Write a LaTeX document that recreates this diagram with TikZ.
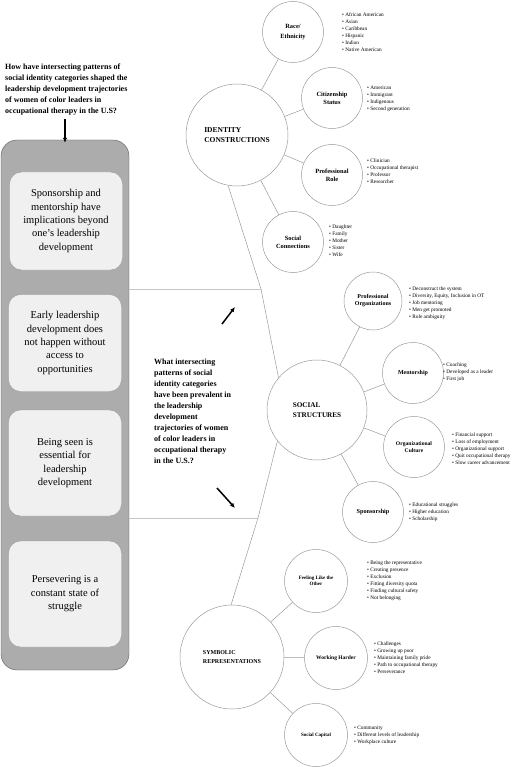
\documentclass[tikz,border=0pt]{standalone}
\usepackage{fontspec}
\setmainfont{Liberation Serif}
\usetikzlibrary{positioning,arrows.meta}
\definecolor{panelgray}{HTML}{ACACAC}
\definecolor{cardgray}{HTML}{F0F0F0}
\definecolor{rimgray}{HTML}{9A9A9A}
\definecolor{railgray}{HTML}{C4C4C4}
\begin{document}
\begin{tikzpicture}[x=1pt, y=-1pt,
  topic/.style = {circle, draw=rimgray, line width=0.5pt,
    minimum size=102pt, inner sep=0pt, align=left,
    font=\bfseries\fontsize{7.5}{10}\selectfont},
  subtopic/.style = {circle, draw=rimgray, line width=0.5pt,
    minimum size=61pt, inner sep=0pt, align=center,
    font=\bfseries\fontsize{6.4}{8}\selectfont},
  codes/.style = {anchor=west, align=left, inner sep=0pt,
    font=\fontsize{5.3}{7}\selectfont},
  finding/.style = {rounded corners=12pt, draw=rimgray, fill=cardgray,
    minimum width=113pt, align=center,
    font=\fontsize{10.5}{13.4}\selectfont},
  question/.style = {anchor=north west, align=left, inner sep=0pt,
    font=\bfseries\fontsize{8}{11}\selectfont},
  link/.style = {draw=rimgray, line width=0.5pt},
  cue/.style = {-{Latex[length=5pt,width=4.5pt]}, line width=1.5pt}]
  \useasboundingbox (0,0) rectangle (520,767);

  \node[question] (q1) at (5,63.5) {How have intersecting patterns of\\
    social identity categories shaped the\\
    leadership development trajectories\\
    of women of color leaders in\\
    occupational therapy in the U.S?};

  \node[rounded corners=16pt, draw=black!65, fill=panelgray,
    minimum width=128pt, minimum height=530pt] (panel) at (65,405) {};
  \node[finding, minimum height=98pt] (f1) at (66,221) {Sponsorship and\\
    mentorship have\\ implications beyond\\ one’s leadership\\ development};
  \node[finding, minimum height=97pt] (f2) at (65,343) {Early leadership\\
    development does\\ not happen without\\ access to\\ opportunities};
  \node[finding, minimum height=106pt] (f3) at (65,463) {Being seen is\\
    essential for\\ leadership\\ development};
  \node[finding, minimum height=106pt] (f4) at (65,594) {Persevering is a\\
    constant state of\\ struggle};

  \node[question] (q2) at (154,359) {What intersecting\\ patterns of social\\
    identity categories\\ have been prevalent in\\ the leadership\\
    development\\ trajectories of women\\ of color leaders in\\
    occupational therapy\\ in the U.S.?};

  \node[topic] (idc) at (237,135) {IDENTITY\\ CONSTRUCTIONS};
  \node[topic, minimum size=100pt, font=\bfseries\fontsize{7.2}{9.5}\selectfont]
    (ss) at (317,410) {SOCIAL\\ STRUCTURES};
  \node[topic, minimum size=104pt, font=\bfseries\fontsize{6}{9}\selectfont]
    (sr) at (232,657) {SYMBOLIC\\ REPRESENTATIONS};

  \node[subtopic, font=\bfseries\fontsize{6.4}{10}\selectfont]
    (race) at (293,32) {Race/\\ Ethnicity};
  \node[subtopic] (cit) at (332,98) {Citizenship\\ Status};
  \node[subtopic] (role) at (332,175) {Professional\\ Role};
  \node[subtopic] (conn) at (293,242) {Social\\ Connections};

  \node[subtopic, minimum size=58pt, font=\bfseries\fontsize{6}{7}\selectfont]
    (org) at (373,301) {Professional\\ Organizations};
  \node[subtopic, font=\bfseries\fontsize{6}{7}\selectfont]
    (ment) at (413,373) {Mentorship};
  \node[subtopic, font=\bfseries\fontsize{5.6}{7}\selectfont]
    (cult) at (414,447) {Organizational\\ Culture};
  \node[subtopic, font=\bfseries\fontsize{6.2}{7}\selectfont]
    (spon) at (373,512) {Sponsorship};

  \node[subtopic, minimum size=63pt, font=\bfseries\fontsize{5}{6}\selectfont]
    (other) at (316,581) {Feeling Like the\\ Other};
  \node[subtopic, minimum size=63pt, font=\bfseries\fontsize{5.5}{6}\selectfont]
    (hard) at (336,658) {Working Harder};
  \node[subtopic, minimum size=63pt, font=\bfseries\fontsize{5}{6}\selectfont]
    (cap) at (316,735) {Social Capital};

  \node[codes] (racel) at (342,32) {\textbullet\ African American\\
    \textbullet\ Asian\\ \textbullet\ Caribbean\\ \textbullet\ Hispanic\\
    \textbullet\ Indian\\ \textbullet\ Native American};
  \node[codes] (citl) at (367,98.5) {\textbullet\ American\\
    \textbullet\ Immigrant\\ \textbullet\ Indigenous\\
    \textbullet\ Second generation};
  \node[codes] (rolel) at (367,171.5) {\textbullet\ Clinician\\
    \textbullet\ Occupational therapist\\ \textbullet\ Professor\\
    \textbullet\ Researcher};
  \node[codes] (connl) at (329,241) {\textbullet\ Daughter\\
    \textbullet\ Family\\ \textbullet\ Mother\\ \textbullet\ Sister\\
    \textbullet\ Wife};
  \node[codes] (orgl) at (409,303.5) {\textbullet\ Deconstruct the system\\
    \textbullet\ Diversity, Equity, Inclusion in OT\\
    \textbullet\ Job mentoring\\ \textbullet\ Men get promoted\\
    \textbullet\ Role ambiguity};
  \node[codes] (mentl) at (443,372) {\textbullet\ Coaching\\
    \textbullet\ Developed as a leader\\ \textbullet\ First job};
  \node[codes] (cultl) at (452,449) {\textbullet\ Financial support\\
    \textbullet\ Loss of employment\\ \textbullet\ Organizational support\\
    \textbullet\ Quit occupational therapy\\
    \textbullet\ Slow career advancement};
  \node[codes] (sponl) at (409,512) {\textbullet\ Educational struggles\\
    \textbullet\ Higher education\\ \textbullet\ Scholarship};
  \node[codes] (otherl) at (367,580.5) {\textbullet\ Being the representative\\
    \textbullet\ Creating presence\\ \textbullet\ Exclusion\\
    \textbullet\ Fitting diversity quota\\
    \textbullet\ Finding cultural safety\\ \textbullet\ Not belonging};
  \node[codes] (hardl) at (374,658) {\textbullet\ Challenges\\
    \textbullet\ Growing up poor\\ \textbullet\ Maintaining family pride\\
    \textbullet\ Path to occupational therapy\\ \textbullet\ Perseverance};
  \node[codes] (capl) at (354,735) {\textbullet\ Community\\
    \textbullet\ Different levels of leadership\\
    \textbullet\ Workplace culture};

  \coordinate (upv) at (261,289);
  \coordinate (lowv) at (258,518);
  \draw[link] (idc.260) -- (upv) -- (ss.140);
  \draw[link] (ss.218) -- (lowv) -- (sr.91);
  \draw[draw=railgray, line width=0.8pt] (panel.east |- upv) -- (upv);
  \draw[draw=railgray, line width=0.8pt] (panel.east |- lowv) -- (lowv);

  \foreach \leaf in {race, cit, role, conn}
    \draw[link] (idc) -- (\leaf);
  \foreach \leaf in {org, ment, cult, spon}
    \draw[link] (ss) -- (\leaf);
  \foreach \leaf in {other, hard, cap}
    \draw[link] (sr) -- (\leaf);

  \coordinate (upcue) at (222,324);
  \coordinate (lowcue) at (217,488);
  \draw[cue] ([yshift=-4pt]q1.south -| panel.north) -- ([yshift=-3pt]panel.north);
  \draw[cue] (upcue) -- ++(13,-17);
  \draw[cue] (lowcue) -- ++(18,20);
\end{tikzpicture}
\end{document}
